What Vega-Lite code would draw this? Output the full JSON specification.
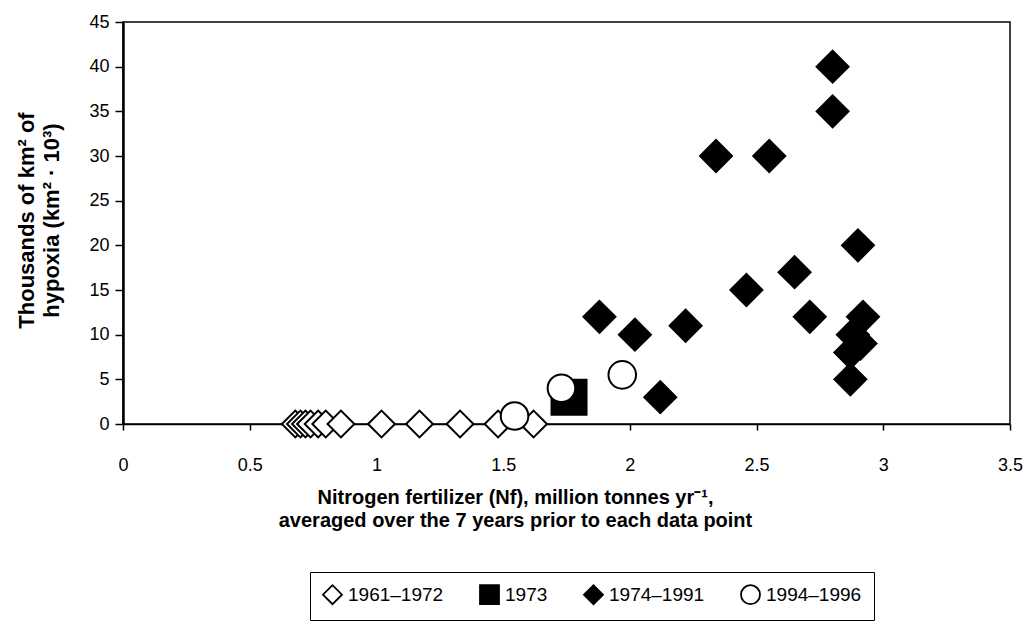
{
  "$schema": "https://vega.github.io/schema/vega-lite/v6.json",
  "width": 887,
  "height": 402,
  "autosize": {"type": "none"},
  "padding": {"left": 123, "top": 22, "right": 17, "bottom": 217},
  "background": "white",
  "config": {
    "font": "Liberation Sans",
    "view": {"stroke": "black", "strokeWidth": 1.5},
    "axis": {
      "domainColor": "black",
      "tickColor": "black",
      "labelColor": "black",
      "titleColor": "black",
      "grid": false,
      "labelFont": "Liberation Sans",
      "titleFont": "Liberation Sans",
      "labelFontSize": 18,
      "titleFontSize": 20,
      "titleFontWeight": "bold"
    },
    "legend": {
      "title": null,
      "orient": "none",
      "legendX": 187,
      "legendY": 550,
      "direction": "horizontal",
      "columns": 4,
      "strokeColor": "black",
      "padding": 12,
      "labelFont": "Liberation Sans",
      "labelFontSize": 19,
      "labelColor": "black",
      "labelOffset": 5,
      "columnPadding": 32,
      "symbolSize": 360,
      "symbolStrokeWidth": 1.8
    }
  },
  "data": {
    "values": [
      {"nf": 0.68, "hyp": 0, "period": "1961–1972"},
      {"nf": 0.70, "hyp": 0, "period": "1961–1972"},
      {"nf": 0.72, "hyp": 0, "period": "1961–1972"},
      {"nf": 0.74, "hyp": 0, "period": "1961–1972"},
      {"nf": 0.77, "hyp": 0, "period": "1961–1972"},
      {"nf": 0.80, "hyp": 0, "period": "1961–1972"},
      {"nf": 0.86, "hyp": 0, "period": "1961–1972"},
      {"nf": 1.02, "hyp": 0, "period": "1961–1972"},
      {"nf": 1.17, "hyp": 0, "period": "1961–1972"},
      {"nf": 1.33, "hyp": 0, "period": "1961–1972"},
      {"nf": 1.48, "hyp": 0, "period": "1961–1972"},
      {"nf": 1.62, "hyp": 0, "period": "1961–1972"},
      {"nf": 1.76, "hyp": 3.0, "period": "1973"},
      {"nf": 1.88, "hyp": 12, "period": "1974–1991"},
      {"nf": 2.02, "hyp": 10, "period": "1974–1991"},
      {"nf": 2.12, "hyp": 3, "period": "1974–1991"},
      {"nf": 2.22, "hyp": 11, "period": "1974–1991"},
      {"nf": 2.34, "hyp": 30, "period": "1974–1991"},
      {"nf": 2.46, "hyp": 15, "period": "1974–1991"},
      {"nf": 2.55, "hyp": 30, "period": "1974–1991"},
      {"nf": 2.65, "hyp": 17, "period": "1974–1991"},
      {"nf": 2.71, "hyp": 12, "period": "1974–1991"},
      {"nf": 2.80, "hyp": 40, "period": "1974–1991"},
      {"nf": 2.80, "hyp": 35, "period": "1974–1991"},
      {"nf": 2.90, "hyp": 20, "period": "1974–1991"},
      {"nf": 2.87, "hyp": 5, "period": "1974–1991"},
      {"nf": 2.87, "hyp": 8, "period": "1974–1991"},
      {"nf": 2.88, "hyp": 10, "period": "1974–1991"},
      {"nf": 2.91, "hyp": 9, "period": "1974–1991"},
      {"nf": 2.92, "hyp": 12, "period": "1974–1991"},
      {"nf": 1.545, "hyp": 0.9, "period": "1994–1996"},
      {"nf": 1.73, "hyp": 4.0, "period": "1994–1996"},
      {"nf": 1.97, "hyp": 5.5, "period": "1994–1996"}
    ]
  },
  "mark": {"type": "point", "filled": true, "strokeWidth": 2, "opacity": 1},
  "encoding": {
    "x": {
      "field": "nf",
      "type": "quantitative",
      "scale": {"domain": [0, 3.5], "nice": false, "zero": false},
      "axis": {
        "values": [0, 0.5, 1, 1.5, 2, 2.5, 3, 3.5],
        "labelExpr": "'' + datum.value",
        "domainWidth": 1.5,
        "tickSize": 6,
        "tickWidth": 1.5,
        "labelPadding": 26,
        "labelFlush": false,
        "title": ["Nitrogen fertilizer (Nf), million tonnes yr⁻¹,", "averaged over the 7 years prior to each data point"],
        "titleX": 392,
        "titleY": 73,
        "titleBaseline": "middle",
        "titleLineHeight": 23
      }
    },
    "y": {
      "field": "hyp",
      "type": "quantitative",
      "scale": {"domain": [0, 45], "nice": false, "zero": false},
      "axis": {
        "values": [0, 5, 10, 15, 20, 25, 30, 35, 40, 45],
        "domainWidth": 2.5,
        "tickSize": 8,
        "tickWidth": 1.5,
        "labelPadding": 6,
        "labelFlush": false,
        "title": ["Thousands of km² of", "hypoxia (km² · 10³)"],
        "titleX": -97,
        "titleY": 198,
        "titleBaseline": "middle",
        "titleFontSize": 22,
        "titleLineHeight": 25
      }
    },
    "shape": {
      "field": "period",
      "type": "nominal",
      "scale": {"domain": ["1961–1972", "1973", "1974–1991", "1994–1996"], "range": ["diamond", "square", "diamond", "circle"]}
    },
    "fill": {
      "field": "period",
      "type": "nominal",
      "scale": {"domain": ["1961–1972", "1973", "1974–1991", "1994–1996"], "range": ["white", "black", "black", "white"]}
    },
    "stroke": {
      "field": "period",
      "type": "nominal",
      "scale": {"domain": ["1961–1972", "1973", "1974–1991", "1994–1996"], "range": ["black", "black", "black", "black"]}
    },
    "size": {
      "condition": [
        {"test": "datum.period === '1973'", "value": 1225},
        {"test": "datum.period === '1994–1996'", "value": 760},
        {"test": "datum.period === '1961–1972'", "value": 720}
      ],
      "value": 1024
    }
  }
}
